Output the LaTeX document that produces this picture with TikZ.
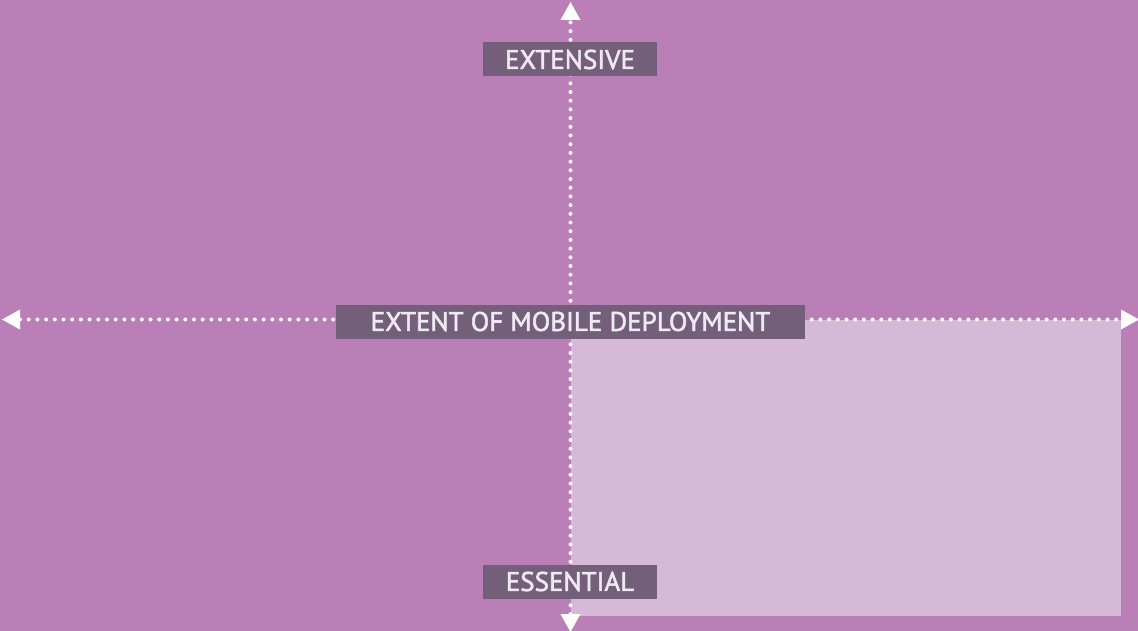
\documentclass[tikz,border=0pt]{standalone}
\usepackage{fontspec}
\setmainfont{PT Sans}
\newfontfamily\labelfont[FakeBold=2]{PT Sans}
\usetikzlibrary{arrows.meta}
\definecolor{bgpurple}{RGB}{186,127,182}
\definecolor{quadlight}{RGB}{214,185,214}
\definecolor{labelfill}{RGB}{116,95,123}
\definecolor{labeltext}{RGB}{238,234,242}
\tikzset{
  axis/.style={white, line width=4pt, line cap=round, dash pattern=on 0pt off 8.7pt,
    {Triangle[length=18pt,width=20pt,line width=0pt]}-{Triangle[length=18pt,width=20pt,line width=0pt]}},
  axislabel/.style={fill=labelfill, text=labeltext, inner sep=0pt, anchor=center,
    minimum height=34pt, font=\labelfont\fontsize{27}{27}\selectfont}
}
\begin{document}
\begin{tikzpicture}[x=1pt,y=-1pt]
  % canvas
  \fill[bgpurple] (0,0) rectangle (1138,631);
  \useasboundingbox (0,0) rectangle (1138,631);
  % highlighted quadrant
  \fill[quadlight] (571,320) rectangle (1121,616);
  % axis end points
  \coordinate (top) at (570.5,2);
  \coordinate (bottom) at (570.5,632);
  \coordinate (left) at (2,319.5);
  \coordinate (right) at (1139,319.5);
  % axes
  \draw[axis] (left) -- (right);
  \draw[axis] (bottom) -- (top);
  % labels
  \node[axislabel, minimum width=174pt] (ext) at (570,59.5) {EXTENSIVE};
  \node[axislabel, minimum width=469pt] (deploy) at (570.5,321.5) {EXTENT OF MOBILE DEPLOYMENT};
  \node[axislabel, minimum width=174pt] (ess) at (570,581.5) {ESSENTIAL};
\end{tikzpicture}
\end{document}
